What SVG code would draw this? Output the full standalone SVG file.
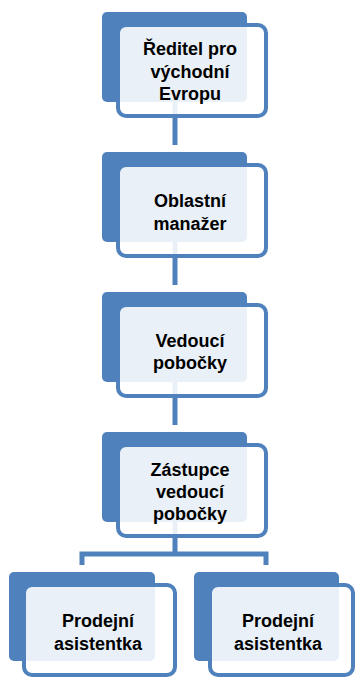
<svg xmlns="http://www.w3.org/2000/svg" width="356" height="679" viewBox="0 0 356 679">
<style>
.back{fill:#4F81BD}
.front{fill:#FFFFFF;fill-opacity:0.88;stroke:#4F81BD;stroke-width:4}
.conn{fill:none;stroke:#4F81BD;stroke-width:5}
text{font-family:"Liberation Sans",Arial,sans-serif;font-weight:bold;font-size:18px;fill:#000;text-anchor:middle}
</style>
<rect width="356" height="679" fill="#FFFFFF"/>
<g id="connectors">
<path class="conn" d="M175,100 V145"/>
<path class="conn" d="M175,240 V285"/>
<path class="conn" d="M175,380 V425"/>
<path class="conn" d="M175,520 V554"/>
<path class="conn" d="M82,565 V554 H266 V565"/>
</g>
<g id="n1">
<rect class="back" x="102" y="12" width="145" height="90" rx="5"/>
<rect class="front" x="118" y="25" width="148" height="91" rx="8"/>
<text x="190" y="55">Ředitel pro</text>
<text x="190" y="78">východní</text>
<text x="190" y="100">Evropu</text>
</g>
<g id="n2">
<rect class="back" x="102" y="152" width="145" height="90" rx="5"/>
<rect class="front" x="118" y="165" width="148" height="91" rx="8"/>
<text x="190" y="207">Oblastní</text>
<text x="190" y="230">manažer</text>
</g>
<g id="n3">
<rect class="back" x="102" y="292" width="145" height="90" rx="5"/>
<rect class="front" x="118" y="305" width="148" height="91" rx="8"/>
<text x="190" y="347">Vedoucí</text>
<text x="190" y="369">pobočky</text>
</g>
<g id="n4">
<rect class="back" x="102" y="432" width="145" height="90" rx="5"/>
<rect class="front" x="118" y="445" width="148" height="91" rx="8"/>
<text x="190" y="476">Zástupce</text>
<text x="190" y="498">vedoucí</text>
<text x="190" y="520">pobočky</text>
</g>
<g id="n5">
<rect class="back" x="9" y="572" width="146" height="89" rx="5"/>
<rect class="front" x="24" y="585" width="151" height="90" rx="8"/>
<text x="98" y="627">Prodejní</text>
<text x="98" y="650">asistentka</text>
</g>
<g id="n6">
<rect class="back" x="194" y="572" width="145" height="89" rx="5"/>
<rect class="front" x="210" y="585" width="143" height="90" rx="8"/>
<text x="278" y="627">Prodejní</text>
<text x="278" y="650">asistentka</text>
</g>
</svg>
